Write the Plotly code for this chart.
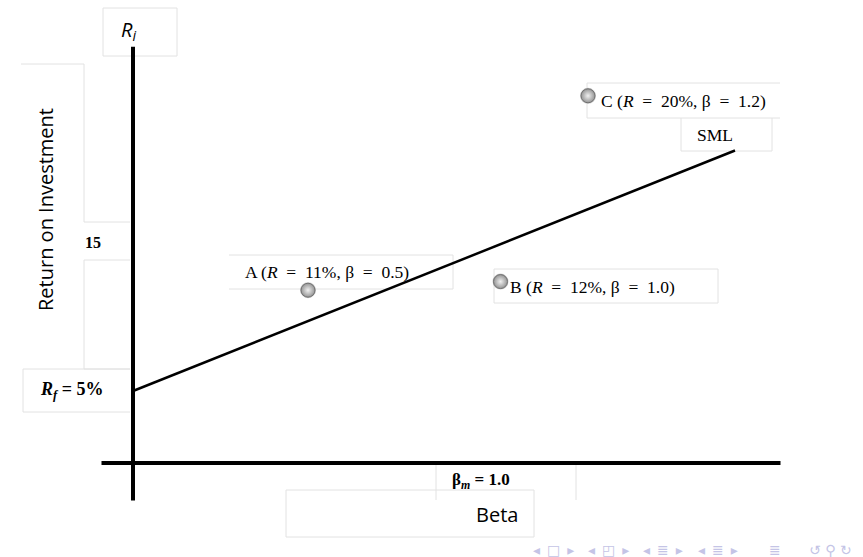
import plotly.graph_objects as go

W, H = 863, 557

# diagram units: x = beta position, y = return (%) position
sml_beta = [0.0, 1.72]
sml_return = [5.0, 21.7]

point_names = ["A", "B", "C"]
point_beta = [0.50, 1.05, 1.30]
point_return = [12.0, 12.6, 25.5]
sp = "\u2002"
point_labels = [
    f"A (<i>R</i>{sp}={sp}11%, β{sp}={sp}0.5)",
    f"B (<i>R</i>{sp}={sp}12%, β{sp}={sp}1.0)",
    f"C (<i>R</i>{sp}={sp}20%, β{sp}={sp}1.2)",
]

x_axis_beta = [-0.09, 1.85]
y_axis_return = [-2.6, 28.9]

# pixel mapping of the slide: beta 0 at x=133, 350 px per unit; return 0 at y=463, 14.4 px per %
X0, SX = 133, 350.0
Y0, SY = 463, 14.4
x_range = [-X0 / SX, (W - X0) / SX]
y_range = [(Y0 - H) / SY, Y0 / SY]


def pap(x, y):
    return x / W, 1 - y / H


fig = go.Figure()

# axes
fig.add_trace(go.Scatter(x=x_axis_beta, y=[0, 0], mode="lines",
                         line=dict(color="black", width=4), hoverinfo="skip"))
fig.add_trace(go.Scatter(x=[0, 0], y=y_axis_return, mode="lines",
                         line=dict(color="black", width=4), hoverinfo="skip"))

# security market line
fig.add_trace(go.Scatter(x=sml_beta, y=sml_return, mode="lines",
                         line=dict(color="black", width=2.5), hoverinfo="skip"))

# text box frames (pixel rectangles: x0, y0, x1, y1, sides)
frames = [
    (103, 8, 177, 56, "tblr"),      # R_i
    (21, 64, 84, 222, "tr"),        # Return on Investment
    (84, 222, 130, 222, "t"),
    (84, 260, 130, 369, "tlb"),     # below 15
    (23, 369, 130, 412, "tlb"),     # Rf
    (229, 255, 453, 289, "tbr"),    # A
    (494, 269, 718, 303, "tblr"),   # B
    (587, 83, 780, 118, "tlb"),     # C
    (681, 118, 772, 151, "lbr"),    # SML
    (436, 462, 576, 500, "lr"),     # beta_m
    (286, 490, 534, 537, "tlbr"),   # Beta
]
shapes = []
frame_col = "#e2e2e2"
for x0, y0, x1, y1, sides in frames:
    a0, b0 = pap(x0, y0)
    a1, b1 = pap(x1, y1)
    segs = {"t": (a0, b0, a1, b0), "b": (a0, b1, a1, b1),
            "l": (a0, b0, a0, b1), "r": (a1, b0, a1, b1)}
    for s in sides:
        u0, v0, u1, v1 = segs[s]
        shapes.append(dict(type="line", xref="paper", yref="paper",
                           x0=u0, y0=v0, x1=u1, y1=v1,
                           line=dict(color=frame_col, width=1), layer="below"))

# portfolio points (soft shadow + sphere)
fig.add_trace(go.Scatter(
    x=point_beta, y=point_return, mode="markers",
    marker=dict(size=16, color="rgba(120,120,120,0.35)", line=dict(width=0)),
    hoverinfo="skip"))
fig.add_trace(go.Scatter(
    x=point_beta, y=point_return, mode="markers", text=point_names,
    marker=dict(size=14, color="#959595",
                gradient=dict(type="radial", color="#f0f0f0"),
                line=dict(color="#707070", width=1)),
    hoverinfo="text"))

serif = "Liberation Serif"
annotations = []


def note(text, x, y, size, family, color="black", **kw):
    u, v = pap(x, y)
    annotations.append(dict(text=text, x=u, y=v, xref="paper", yref="paper",
                            showarrow=False, font=dict(size=size, family=family, color=color),
                            xanchor=kw.pop("xanchor", "center"), yanchor="middle", **kw))


note("<i>R<sub>i</sub></i>", 128, 31, 20, "Open Sans")
note("Return on Investment", 45, 210, 20, "Open Sans", textangle=-90)
note("<b>15</b>", 93, 242, 16, serif)
note("<b><i>R<sub>f</sub></i> = 5%</b>", 71, 390, 18, serif)
note(point_labels[0], 243, 272, 17.5, serif, xanchor="left")
note(point_labels[1], 508, 287, 17.5, serif, xanchor="left")
note(point_labels[2], 599, 101, 17.5, serif, xanchor="left")
note("SML", 715, 135, 17.5, serif)
note("<b>β<sub><i>m</i></sub></b> <b>= 1.0</b>", 481, 481, 17, serif)
note("Beta", 497, 514, 20, "Open Sans")

# beamer navigation symbols
nav = "#c4c4e6"
note("◂\u2002□\u2002▸", 553, 550, 14, "DejaVu Sans", color=nav)
note("◂\u2002◰\u2002▸", 608, 550, 14, "DejaVu Sans", color=nav)
note("◂\u2002≣\u2002▸", 663, 550, 14, "DejaVu Sans", color=nav)
note("◂\u2002≣\u2002▸", 718, 550, 14, "DejaVu Sans", color=nav)
note("≣", 775, 550, 14, "DejaVu Sans", color=nav)
note("↺ ⚲ ↻", 830, 550, 14, "DejaVu Sans", color=nav)

fig.update_layout(
    width=W, height=H,
    margin=dict(l=0, r=0, t=0, b=0),
    paper_bgcolor="white", plot_bgcolor="white",
    showlegend=False,
    xaxis=dict(range=x_range, visible=False, fixedrange=True),
    yaxis=dict(range=y_range, visible=False, fixedrange=True),
    shapes=shapes,
    annotations=annotations,
)

fig.write_html("out.html", config={"displayModeBar": False},
               post_script="document.body.style.margin='0';")
